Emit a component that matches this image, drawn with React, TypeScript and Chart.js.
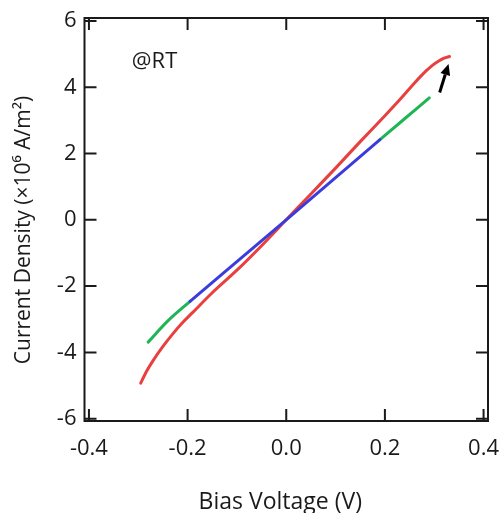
import React, { useEffect, useRef } from "react";
import { Chart, registerables } from "chart.js";

Chart.register(...registerables);

// ---- data ----
const xTickValues = [-0.4, -0.2, 0, 0.2, 0.4];
const yTickValues = [-6, -4, -2, 0, 2, 4, 6];
const xRange = [-0.409, 0.409];
const yRange = [-6.07, 6.09];

const redV = [-0.295, -0.285, -0.27, -0.25, -0.23, -0.21, -0.19, -0.15, -0.1, -0.05, 0, 0.05, 0.1, 0.15, 0.2, 0.23, 0.256, 0.27, 0.284, 0.297, 0.31, 0.32, 0.331];
const redJ = [-4.93, -4.62, -4.25, -3.82, -3.44, -3.1, -2.8, -2.2, -1.52, -0.78, 0, 0.78, 1.56, 2.36, 3.14, 3.62, 4.06, 4.29, 4.5, 4.67, 4.8, 4.88, 4.93];

const blueV = [-0.195, 0, 0.19];
const blueJ = [-2.46, 0, 2.42];

const greenUpperV = [0.19, 0.24, 0.29];
const greenUpperJ = [2.42, 3.05, 3.68];
const greenLowerV = [-0.195, -0.24, -0.28];
const greenLowerJ = [-2.46, -3.05, -3.69];

const arrowV = [0.311, 0.329];
const arrowJ = [3.84, 4.7];

const noteText = "@RT";
const notePos = [-0.313, 4.58];

const xTitle = "Bias Voltage (V)";
const yTitle = "Current Density (\u00d710\u2076 A/m\u00b2)";

const RED = "#e8403e";
const BLUE = "#3c3cdc";
const GREEN = "#1fb556";
const INK = "#1a1a1a";
const FONT = "'Open Sans', 'Noto Sans', sans-serif";

const pts = (xs: number[], ys: number[]) => xs.map((x, i) => ({ x, y: ys[i] }));

const framePlugin = {
  id: "frameTicksNotes",
  afterDatasetsDraw(chart: any) {
    const { ctx, chartArea: a, scales } = chart;
    const xs = scales.x;
    const ys = scales.y;
    const TICK = 12;
    ctx.save();
    ctx.strokeStyle = INK;
    ctx.lineWidth = 2;
    ctx.strokeRect(a.left, a.top, a.right - a.left, a.bottom - a.top);
    ctx.beginPath();
    for (const v of xTickValues) {
      const px = xs.getPixelForValue(v);
      ctx.moveTo(px, a.bottom);
      ctx.lineTo(px, a.bottom - TICK);
      ctx.moveTo(px, a.top);
      ctx.lineTo(px, a.top + TICK);
    }
    for (const v of yTickValues) {
      const py = ys.getPixelForValue(v);
      ctx.moveTo(a.left, py);
      ctx.lineTo(a.left + TICK, py);
      ctx.moveTo(a.right, py);
      ctx.lineTo(a.right - TICK, py);
    }
    ctx.stroke();

    // arrow
    const x0 = xs.getPixelForValue(arrowV[0]);
    const y0 = ys.getPixelForValue(arrowJ[0]);
    const x1 = xs.getPixelForValue(arrowV[1]);
    const y1 = ys.getPixelForValue(arrowJ[1]);
    const ang = Math.atan2(y1 - y0, x1 - x0);
    const headLen = 11;
    const headW = 5;
    const bx = x1 - headLen * Math.cos(ang);
    const by = y1 - headLen * Math.sin(ang);
    ctx.strokeStyle = "#000";
    ctx.fillStyle = "#000";
    ctx.lineWidth = 3;
    ctx.beginPath();
    ctx.moveTo(x0, y0);
    ctx.lineTo(bx, by);
    ctx.stroke();
    ctx.beginPath();
    ctx.moveTo(x1, y1);
    ctx.lineTo(bx + headW * Math.sin(ang), by - headW * Math.cos(ang));
    ctx.lineTo(bx - headW * Math.sin(ang), by + headW * Math.cos(ang));
    ctx.closePath();
    ctx.fill();

    // note
    ctx.fillStyle = INK;
    ctx.font = `22px ${FONT}`;
    ctx.textAlign = "left";
    ctx.textBaseline = "alphabetic";
    ctx.fillText(noteText, xs.getPixelForValue(notePos[0]), ys.getPixelForValue(notePos[1]));

    // axis titles
    ctx.textAlign = "center";
    ctx.font = `23px ${FONT}`;
    ctx.fillText(xTitle, (a.left + a.right) / 2 - 6, a.bottom + 88);
    ctx.save();
    ctx.translate(a.left - 55, (a.top + a.bottom) / 2 + 10.5);
    ctx.rotate(-Math.PI / 2);
    ctx.font = `21px ${FONT}`;
    ctx.fillText(yTitle, 0, 0);
    ctx.restore();
    ctx.restore();
  },
};

export default function App() {
  const ref = useRef<HTMLCanvasElement | null>(null);
  useEffect(() => {
    if (!ref.current) return;
    const line = (data: any, color: string) => ({
      data,
      borderColor: color,
      backgroundColor: color,
      borderWidth: 3,
      pointRadius: 0,
      showLine: true,
      fill: false,
      cubicInterpolationMode: "monotone" as const,
      borderCapStyle: "round" as const,
    });
    const chart = new Chart(ref.current, {
      type: "scatter",
      data: {
        datasets: [
          line(pts(blueV, blueJ), BLUE),
          line(pts(greenUpperV, greenUpperJ), GREEN),
          line(pts(greenLowerV, greenLowerJ), GREEN),
          line(pts(redV, redJ), RED),
        ],
      },
      options: {
        animation: false,
        responsive: true,
        maintainAspectRatio: false,
        layout: { padding: { top: 10, right: 13, left: 0, bottom: 0 } },
        plugins: { legend: { display: false }, tooltip: { enabled: false } },
        scales: {
          x: {
            type: "linear",
            position: "bottom",
            min: xRange[0],
            max: xRange[1],
            grid: { display: false, drawTicks: false },
            border: { display: false },
            afterBuildTicks: (s: any) => {
              s.ticks = xTickValues.map((value) => ({ value }));
            },
            afterFit: (s: any) => {
              s.height = 92;
              s.paddingLeft = 0;
              s.paddingRight = 0;
            },
            ticks: {
              padding: 15,
              color: INK,
              font: { family: FONT, size: 22 },
              callback: (v: any) => Number(v).toFixed(1),
            },
            title: { display: false },
          },
          y: {
            type: "linear",
            min: yRange[0],
            max: yRange[1],
            grid: { display: false, drawTicks: false },
            border: { display: false },
            afterBuildTicks: (s: any) => {
              s.ticks = yTickValues.map((value) => ({ value }));
            },
            afterFit: (s: any) => {
              s.width = 76.5;
              s.paddingTop = 0;
              s.paddingBottom = 0;
            },
            ticks: {
              padding: 8,
              color: INK,
              font: { family: FONT, size: 22 },
              callback: (v: any) => String(v),
            },
            title: { display: false },
          },
        },
      },
      plugins: [framePlugin],
    });
    return () => chart.destroy();
  }, []);
  return (
    <div style={{ position: "absolute", left: 8, top: 8, width: 493, height: 505 }}>
      <canvas ref={ref} />
    </div>
  );
}
